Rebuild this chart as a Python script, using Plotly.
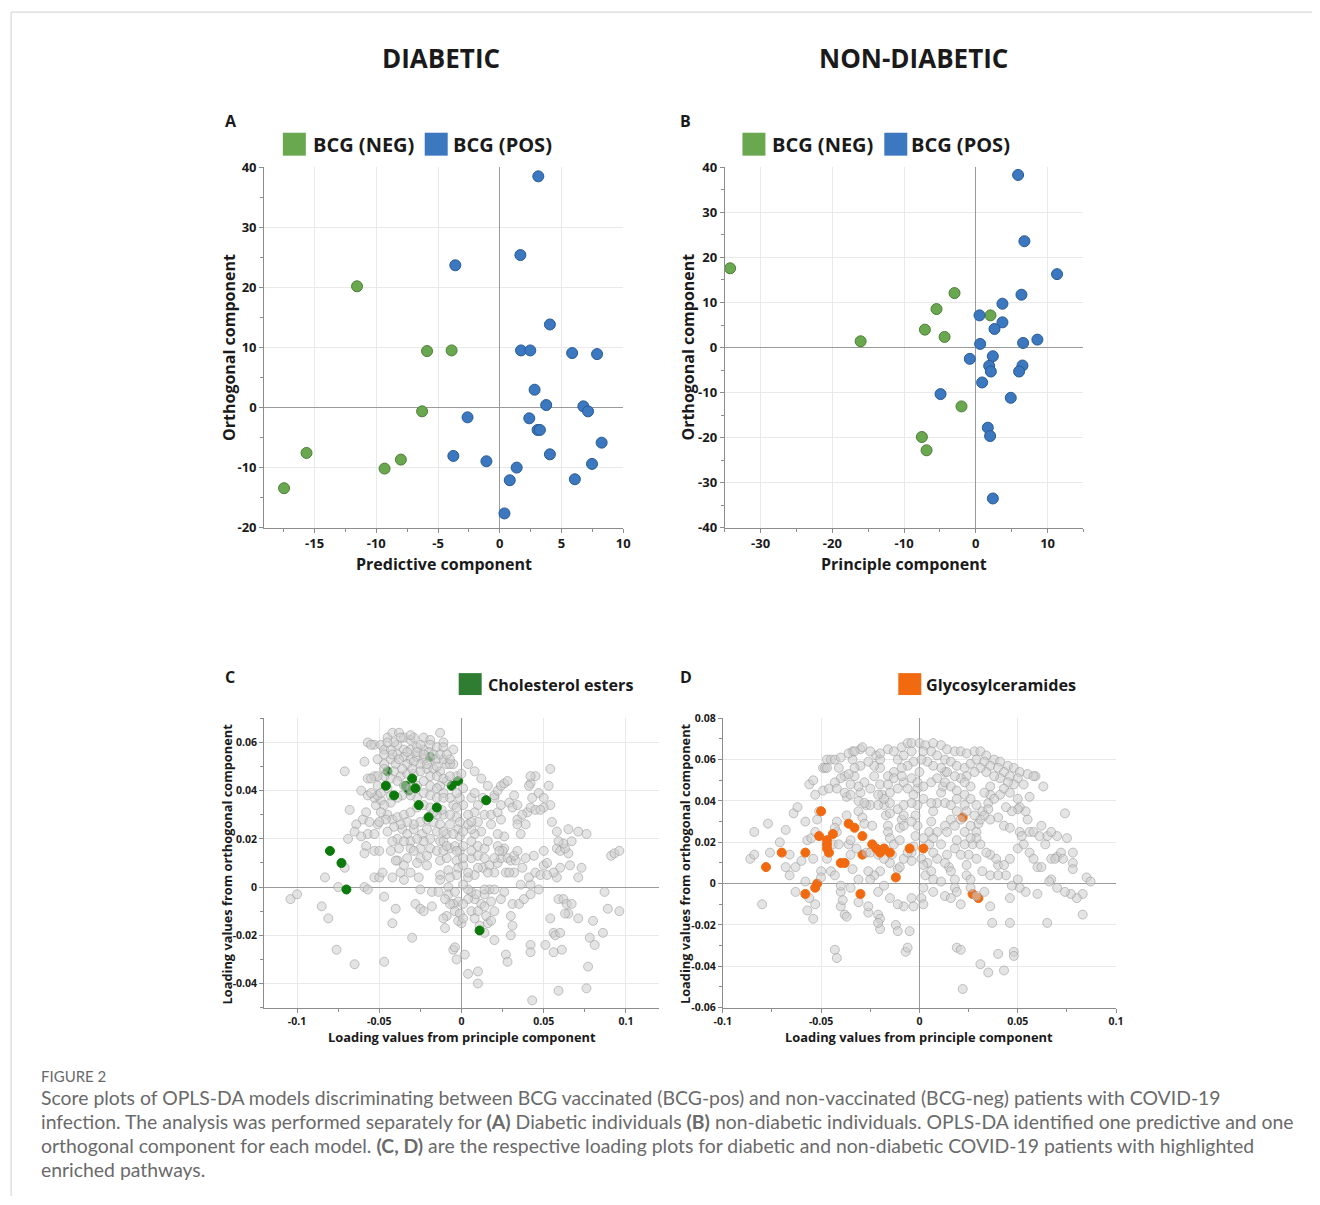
import plotly.graph_objects as go

# figure size; the page is photographed with an 8px body margin and a slight uniform scale
W, H = 1320, 1205
OFF = 8
S = 0.988

# ---------------- Panel A (diabetic score plot) ----------------
a_neg_x = [-11.56, -5.89, -3.90, -6.29, -15.65, -8.01, -9.33, -17.47]
a_neg_y = [20.2, 9.42, 9.53, -0.61, -7.53, -8.64, -10.14, -13.4]
a_pos_x = [3.12, 1.67, -3.60, 4.06, 1.72, 2.47, 5.86, 7.88, 2.82, 3.76, 6.77, 7.15, -2.61, 2.39,
           3.06, 3.25, 8.25, -3.76, 4.06, -1.08, 7.47, 1.37, 0.81, 6.08, 0.38]
a_pos_y = [38.5, 25.4, 23.7, 13.85, 9.53, 9.53, 9.09, 8.92, 2.99, 0.44, 0.22, -0.61, -1.61, -1.77,
           -3.71, -3.71, -5.82, -8.03, -7.76, -8.92, -9.36, -9.97, -12.08, -11.91, -17.6]

# ---------------- Panel B (non-diabetic score plot) ----------------
b_neg_x = [-34.25, -2.97, -5.48, -7.10, -4.36, -16.06, 2.04, -2.00, -7.52, -6.87]
b_neg_y = [17.6, 12.1, 8.55, 3.98, 2.36, 1.4, 7.15, -13.05, -19.84, -22.79]
b_pos_x = [5.89, 6.77, 11.32, 6.36, 3.71, 0.51, 3.71, 2.60, 0.60, 6.59, 8.58, -0.84, 2.37, 1.86,
           2.09, 6.50, 6.03, 0.88, -4.92, 4.87, 1.67, 1.99, 2.37]
b_pos_y = [38.3, 23.6, 16.3, 11.73, 9.73, 7.15, 5.6, 4.13, 0.81, 1.03, 1.77, -2.5, -1.92, -4.06,
           -5.31, -3.98, -5.31, -7.74, -10.32, -11.14, -17.77, -19.62, -33.48]

# ---------------- Panel C (diabetic loadings) ----------------
c_gray = [
    (-0.104, -0.005), (-0.100, -0.003), (-0.085, -0.008), (-0.081, -0.013), (-0.083, 0.004), (-0.075, 0.000),
    (-0.076, -0.026), (-0.065, -0.032), (-0.047, -0.031), (-0.047, -0.004), (-0.071, 0.008), (-0.069, 0.020),
    (-0.068, 0.032), (-0.071, 0.048), (-0.059, 0.052), (-0.061, 0.040), (-0.057, 0.045), (-0.053, 0.046),
    (-0.051, 0.042), (-0.052, 0.034), (-0.049, 0.036), (-0.058, 0.031), (-0.060, 0.028), (-0.064, 0.026),
    (-0.065, 0.023), (-0.057, 0.022), (-0.061, 0.021), (-0.058, 0.017), (-0.053, 0.022), (-0.056, 0.027),
    (-0.051, 0.026), (-0.053, 0.015), (-0.050, 0.015), (-0.059, 0.014), (-0.053, 0.004), (-0.050, 0.004),
    (-0.048, 0.006), (-0.059, 0.000), (-0.057, -0.001), (-0.042, 0.004), (-0.040, -0.009), (-0.042, -0.015),
    (-0.030, -0.021), (-0.028, -0.007), (-0.025, -0.009), (-0.023, -0.010), (-0.018, -0.008), (-0.018, -0.002),
    (-0.014, -0.002), (-0.025, -0.001), (-0.026, 0.004), (-0.031, 0.006), (-0.035, 0.003), (-0.037, 0.006),
    (-0.039, 0.011), (-0.038, 0.016), (-0.040, 0.011), (-0.043, 0.015), (-0.039, 0.020), (-0.036, 0.024),
    (-0.033, 0.022), (-0.031, 0.019), (-0.029, 0.024), (-0.024, 0.022), (-0.025, 0.016), (-0.031, 0.016),
    (-0.025, 0.012), (-0.021, 0.013), (-0.019, 0.016), (-0.019, 0.020), (-0.015, 0.023), (-0.017, 0.027),
    (-0.013, 0.019), (-0.015, 0.015), (-0.013, 0.011), (-0.009, 0.012), (-0.007, 0.016), (-0.011, 0.019),
    (-0.009, 0.022), (-0.007, 0.026), (-0.003, 0.029), (-0.002, 0.024), (-0.001, 0.021), (-0.004, 0.017),
    (-0.001, 0.015), (-0.003, 0.011), (-0.002, 0.008), (-0.008, 0.007), (-0.013, 0.005), (-0.013, 0.003),
    (-0.008, 0.000), (-0.008, -0.003), (-0.004, -0.002), (-0.002, -0.006), (-0.005, -0.007), (-0.004, -0.010),
    (-0.001, -0.011), (0.000, -0.015), (-0.002, -0.014), (-0.009, -0.012), (-0.011, -0.013), (-0.010, -0.017),
    (-0.005, -0.026), (-0.004, -0.025), (-0.003, -0.030), (0.002, -0.028), (0.004, -0.036), (0.010, -0.035),
    (0.010, -0.040), (0.011, -0.016), (0.014, -0.019), (0.016, -0.015), (0.015, -0.012), (0.017, -0.001),
    (0.014, -0.003), (0.012, -0.007), (0.008, -0.005), (0.006, -0.002), (0.004, -0.001), (0.001, 0.001),
    (0.004, 0.004), (0.008, 0.005), (0.013, 0.008), (0.017, 0.009), (0.020, 0.006), (0.022, 0.010),
    (0.024, 0.012), (0.026, 0.016), (0.022, 0.017), (0.025, 0.015), (0.028, 0.012), (0.030, 0.011),
    (0.033, 0.011), (0.032, 0.006), (0.027, 0.006), (0.024, -0.005), (0.020, -0.010), (0.018, -0.014),
    (0.020, -0.022), (0.027, -0.028), (0.028, -0.031), (0.030, -0.020), (0.031, -0.016), (0.030, -0.012),
    (0.031, -0.007), (0.035, -0.007), (0.038, -0.005), (0.042, -0.003), (0.047, -0.001), (0.042, 0.001),
    (0.036, 0.001), (0.041, 0.004), (0.045, 0.006), (0.048, 0.005), (0.050, 0.009), (0.052, 0.010),
    (0.050, 0.015), (0.044, 0.013), (0.039, 0.012), (0.037, 0.008), (0.032, 0.013), (0.034, 0.015),
    (0.026, 0.021), (0.022, 0.022), (0.018, 0.026), (0.012, 0.023), (0.008, 0.022), (0.006, 0.024),
    (0.004, 0.026), (0.010, 0.027), (0.014, 0.030), (0.018, 0.030), (0.024, 0.028), (0.022, 0.031),
    (0.024, 0.034), (0.020, 0.037), (0.015, 0.036), (0.013, 0.037), (0.010, 0.034), (0.008, 0.031),
    (0.004, 0.030), (0.001, 0.034), (-0.005, 0.034), (-0.007, 0.037), (-0.011, 0.030), (-0.012, 0.032),
    (-0.015, 0.030), (-0.011, 0.039), (-0.013, 0.042), (-0.009, 0.044), (-0.013, 0.048), (-0.009, 0.051),
    (-0.005, 0.051), (-0.003, 0.046), (0.000, 0.047), (0.004, 0.051), (0.008, 0.048), (0.012, 0.045),
    (0.016, 0.042), (0.020, 0.038), (0.022, 0.040), (0.024, 0.042), (0.026, 0.043), (0.028, 0.044),
    (0.029, 0.035), (0.031, 0.033), (0.034, 0.028), (0.034, 0.026), (0.036, 0.022), (0.039, 0.026),
    (0.040, 0.031), (0.042, 0.033), (0.045, 0.032), (0.043, 0.037), (0.042, 0.043), (0.047, 0.039),
    (0.045, 0.046), (0.053, 0.042), (0.054, 0.034), (0.055, 0.027), (0.050, 0.033), (0.048, 0.032),
    (0.058, 0.023), (0.058, 0.016), (0.060, 0.015), (0.060, 0.008), (0.058, 0.004), (0.056, 0.006),
    (0.052, 0.005), (0.059, -0.005), (0.062, -0.005), (0.064, -0.007), (0.065, -0.011), (0.054, -0.013),
    (0.056, -0.019), (0.057, -0.020), (0.060, -0.019), (0.061, -0.026), (0.056, -0.027), (0.051, -0.024),
    (0.042, -0.024), (0.042, -0.027), (0.043, -0.047), (0.059, -0.043), (0.076, -0.042), (0.077, -0.033),
    (0.078, -0.021), (0.081, -0.024), (0.086, -0.019), (0.089, -0.009), (0.087, -0.002), (0.080, -0.014),
    (0.071, -0.013), (0.063, -0.011), (0.067, -0.007), (0.073, 0.008), (0.071, 0.004), (0.066, 0.009),
    (0.065, 0.014), (0.063, 0.016), (0.062, 0.018), (0.065, 0.024), (0.071, 0.023), (0.076, 0.022),
    (0.067, 0.019), (0.059, 0.019), (0.091, 0.013), (0.093, 0.014), (0.096, 0.015), (0.096, -0.010),
    (0.054, 0.049), (0.042, 0.046), (0.041, 0.042), (0.032, 0.038), (0.034, 0.034), (0.037, 0.030),
    (0.050, 0.037),
    (-0.057, 0.060), (-0.053, 0.059), (-0.049, 0.059), (-0.045, 0.062), (-0.042, 0.064), (-0.038, 0.064),
    (-0.035, 0.062), (-0.031, 0.061), (-0.029, 0.062), (-0.023, 0.062), (-0.019, 0.061), (-0.013, 0.064),
    (-0.011, 0.060), (-0.005, 0.057), (-0.047, 0.057), (-0.043, 0.057), (-0.039, 0.059), (-0.035, 0.057),
    (-0.031, 0.057), (-0.027, 0.058), (-0.023, 0.057), (-0.019, 0.059), (-0.015, 0.058), (-0.011, 0.058),
    (-0.039, 0.055), (-0.035, 0.054), (-0.031, 0.053), (-0.027, 0.054), (-0.023, 0.053), (-0.019, 0.053),
    (-0.015, 0.053), (-0.011, 0.053), (-0.007, 0.051), (-0.043, 0.053), (-0.047, 0.051), (-0.040, 0.051),
    (-0.033, 0.051), (-0.025, 0.051), (-0.021, 0.049), (-0.017, 0.049), (-0.041, 0.048), (-0.037, 0.046),
    (-0.033, 0.047), (-0.029, 0.047), (-0.025, 0.048), (-0.019, 0.046), (-0.015, 0.046), (-0.051, 0.053),
    (-0.047, 0.055), (-0.055, 0.059), (-0.031, 0.063), (-0.025, 0.059), (-0.020, 0.056), (-0.017, 0.055),
    (-0.013, 0.055), (-0.037, 0.062), (-0.041, 0.060), (-0.045, 0.060), (-0.027, 0.056), (-0.023, 0.055),
    (-0.033, 0.056), (-0.042, 0.055), (-0.038, 0.053), (-0.029, 0.052), (-0.021, 0.051), (-0.015, 0.050),
    (-0.007, 0.053), (-0.009, 0.055), (-0.036, 0.049), (-0.030, 0.049), (-0.043, 0.045), (-0.039, 0.044),
    (-0.035, 0.042), (-0.031, 0.041), (-0.027, 0.042), (-0.023, 0.044), (-0.019, 0.042), (-0.015, 0.041),
    (-0.011, 0.045), (-0.007, 0.046), (-0.023, 0.039), (-0.019, 0.038), (-0.015, 0.037), (-0.011, 0.037),
    (-0.027, 0.037), (-0.031, 0.038), (-0.036, 0.038), (-0.039, 0.037), (-0.043, 0.035), (-0.047, 0.034),
    (-0.045, 0.030), (-0.042, 0.028), (-0.039, 0.029), (-0.035, 0.030), (-0.031, 0.031), (-0.027, 0.033),
    (-0.023, 0.034), (-0.019, 0.033), (-0.017, 0.031), (-0.021, 0.028), (-0.025, 0.027), (-0.029, 0.026),
    (-0.033, 0.027), (-0.037, 0.026), (-0.041, 0.025), (-0.046, 0.028), (-0.050, 0.027), (-0.049, 0.031),
    (-0.053, 0.037), (-0.051, 0.038), (-0.057, 0.038), (-0.055, 0.039), (-0.049, 0.039), (-0.045, 0.041),
    (-0.043, 0.038), (-0.047, 0.046), (-0.051, 0.046), (-0.055, 0.045), (-0.047, 0.049),
    (0.006, 0.012), (0.010, 0.008), (0.016, 0.006), (0.020, 0.012), (0.023, 0.015), (0.029, 0.006),
    (0.004, -0.005), (0.009, -0.003), (0.014, -0.001), (0.020, -0.001), (0.026, -0.002), (0.001, -0.007),
    (0.006, -0.010), (0.010, -0.010), (0.014, -0.008), (0.018, -0.006), (0.008, -0.013), (0.001, -0.013),
    (-0.007, -0.007), (-0.010, -0.005), (0.001, 0.009), (0.004, 0.006), (-0.003, 0.005), (-0.007, 0.004),
    (-0.021, 0.009), (-0.027, 0.010), (-0.033, 0.012), (-0.035, 0.009), (-0.029, 0.015), (-0.023, 0.019),
    (-0.027, 0.020), (-0.035, 0.019), (-0.042, 0.019), (-0.045, 0.023), (-0.011, 0.015), (-0.009, 0.017),
    (-0.005, 0.022), (0.001, 0.017), (0.006, 0.019), (0.010, 0.017), (0.014, 0.016), (0.016, 0.019),
    (0.006, 0.015), (0.010, 0.013), (0.014, 0.012), (0.001, 0.012), (-0.003, 0.015), (-0.021, 0.024),
    (-0.013, 0.026), (-0.011, 0.023), (0.001, 0.023), (0.006, 0.027), (-0.001, 0.027), (-0.007, 0.030),
    (-0.003, 0.033), (-0.001, 0.037), (0.006, 0.037), (0.008, 0.039), (0.001, 0.041), (-0.003, 0.039),
]
c_hl_strong = [(-0.080, 0.015), (-0.073, 0.010), (-0.070, -0.001), (-0.046, 0.042), (-0.041, 0.038),
               (-0.030, 0.045), (-0.028, 0.041), (-0.026, 0.034), (-0.020, 0.029), (-0.015, 0.033),
               (0.015, 0.036), (0.011, -0.018)]
c_hl_faint = [(-0.034, 0.042), (-0.045, 0.048), (-0.019, 0.054), (-0.006, 0.042), (-0.002, 0.044),
              (-0.032, 0.040)]

# ---------------- Panel D (non-diabetic loadings) ----------------
d_gray = [
    (-0.086, 0.012), (-0.084, 0.025), (-0.084, 0.014), (-0.080, -0.010), (-0.077, 0.029), (-0.076, 0.015),
    (-0.071, 0.020), (-0.068, 0.026), (-0.068, 0.008), (-0.066, 0.014), (-0.066, 0.004), (-0.064, 0.034),
    (-0.063, -0.004), (-0.063, 0.008), (-0.062, 0.037), (-0.060, 0.011), (-0.058, 0.030), (-0.057, 0.021),
    (-0.058, 0.001), (-0.057, -0.013), (-0.056, -0.007), (-0.055, 0.022), (-0.056, 0.048), (-0.054, 0.050),
    (-0.054, -0.017), (-0.053, -0.010), (-0.053, 0.043), (-0.054, 0.012), (-0.053, 0.025), (-0.052, 0.031),
    (-0.051, 0.035), (-0.050, 0.006), (-0.050, 0.003), (-0.049, 0.045), (-0.049, 0.056), (-0.048, 0.056),
    (-0.047, 0.060), (-0.047, 0.012), (-0.045, 0.060), (-0.044, 0.019), (-0.045, 0.006), (-0.043, 0.004),
    (-0.043, -0.032), (-0.042, -0.036), (-0.041, 0.056), (-0.040, -0.011), (-0.040, -0.004), (-0.039, -0.008),
    (-0.038, -0.015), (-0.037, -0.016), (-0.037, 0.042), (-0.037, 0.033), (-0.042, 0.030), (-0.042, 0.025),
    (-0.043, 0.027), (-0.041, 0.019), (-0.038, 0.052), (-0.036, 0.019), (-0.035, 0.021), (-0.034, 0.007),
    (-0.033, 0.052), (-0.034, 0.060), (-0.034, 0.064), (-0.031, 0.035), (-0.031, 0.002), (-0.031, -0.009),
    (-0.030, 0.044), (-0.029, 0.032), (-0.028, 0.029), (-0.027, 0.038), (-0.030, 0.065), (-0.027, 0.015),
    (-0.026, -0.014), (-0.026, -0.011), (-0.025, 0.038), (-0.025, 0.015), (-0.024, 0.028), (-0.022, 0.062),
    (-0.023, 0.052), (-0.020, 0.060), (-0.021, -0.015), (-0.020, -0.017), (-0.020, -0.022), (-0.021, -0.019),
    (-0.020, 0.048), (-0.019, 0.043), (-0.018, 0.038), (-0.017, 0.033), (-0.016, 0.028), (-0.016, 0.025),
    (-0.015, 0.022), (-0.015, 0.034), (-0.015, 0.010), (-0.014, 0.014), (-0.013, 0.019), (-0.012, -0.020),
    (-0.011, -0.023), (-0.011, 0.007), (-0.010, 0.008), (-0.010, 0.021), (-0.010, 0.027), (-0.009, 0.031),
    (-0.008, 0.033), (-0.007, -0.033), (-0.006, -0.031), (-0.005, -0.023), (-0.004, -0.007), (-0.004, 0.011),
    (-0.004, 0.015), (-0.003, 0.018), (-0.002, 0.023), (-0.002, 0.033), (-0.001, 0.038), (-0.001, 0.046),
    (0.000, 0.054), (0.001, 0.012), (0.001, -0.007), (0.002, -0.010), (0.002, -0.002), (0.003, 0.004),
    (0.004, 0.010), (0.005, 0.019), (0.005, 0.025), (0.006, 0.030), (0.007, 0.035), (0.009, 0.039),
    (0.011, 0.044), (0.012, 0.047), (0.013, 0.054), (0.014, 0.014), (0.015, 0.008), (0.016, 0.006),
    (0.018, 0.002), (0.018, -0.002), (0.019, -0.004), (0.021, -0.010), (0.019, -0.031), (0.021, -0.032),
    (0.022, -0.051), (0.024, 0.004), (0.024, 0.009), (0.025, 0.014), (0.027, 0.019), (0.029, 0.025),
    (0.030, 0.029), (0.032, 0.035), (0.035, 0.039), (0.036, 0.043), (0.031, -0.039), (0.035, -0.043),
    (0.037, -0.019), (0.043, -0.042), (0.048, -0.033), (0.048, -0.035), (0.040, -0.034), (0.046, -0.019),
    (0.065, -0.019), (0.083, -0.015), (0.085, 0.003), (0.087, 0.001), (0.083, -0.005), (0.080, -0.007),
    (0.077, -0.005), (0.074, -0.004), (0.070, -0.002), (0.067, 0.002), (0.066, 0.001), (0.060, -0.005),
    (0.054, -0.004), (0.051, -0.002), (0.050, 0.002), (0.047, -0.001), (0.046, -0.007), (0.044, 0.004),
    (0.040, 0.009), (0.039, 0.012), (0.036, 0.014), (0.034, 0.015), (0.031, 0.019), (0.029, 0.022),
    (0.029, 0.012), (0.032, 0.006), (0.036, 0.004), (0.040, 0.004), (0.043, 0.009), (0.046, 0.012),
    (0.050, 0.017), (0.053, 0.019), (0.056, 0.015), (0.058, 0.012), (0.060, 0.008), (0.062, 0.008),
    (0.067, 0.012), (0.070, 0.013), (0.072, 0.015), (0.075, 0.022), (0.078, 0.015), (0.078, 0.010),
    (0.078, 0.007), (0.074, 0.034), (0.070, 0.023), (0.065, 0.023), (0.062, 0.028), (0.063, 0.047),
    (0.059, 0.052), (0.056, 0.042), (0.055, 0.031), (0.054, 0.035), (0.051, 0.037), (0.050, 0.036),
    (0.047, 0.035), (0.044, 0.037), (0.041, 0.043), (0.038, 0.041), (0.035, 0.036), (0.031, 0.031),
    (0.040, 0.032), (0.043, 0.028), (0.046, 0.027), (0.051, 0.025), (0.052, 0.023), (0.056, 0.025),
    (0.058, 0.025), (0.061, 0.023), (0.064, 0.019), (0.069, 0.012), (0.073, 0.012), (0.067, 0.025),
    (-0.047, 0.056), (-0.043, 0.060), (-0.040, 0.061), (-0.036, 0.063), (-0.033, 0.064), (-0.029, 0.066),
    (-0.025, 0.064), (-0.020, 0.063), (-0.016, 0.065), (-0.013, 0.064), (-0.009, 0.066), (-0.006, 0.068),
    (-0.004, 0.068), (0.000, 0.068), (0.003, 0.067), (0.007, 0.068), (0.011, 0.067), (0.014, 0.065),
    (0.018, 0.064), (0.021, 0.064), (0.024, 0.063), (0.028, 0.064), (0.031, 0.064), (0.034, 0.062),
    (0.038, 0.060), (0.041, 0.059), (0.045, 0.057), (0.048, 0.056), (0.051, 0.054), (0.055, 0.053),
    (0.058, 0.052), (-0.011, 0.060), (-0.008, 0.062), (-0.004, 0.064), (0.002, 0.064), (0.006, 0.064),
    (0.009, 0.062), (0.013, 0.060), (0.016, 0.059), (0.019, 0.057), (0.023, 0.056), (0.026, 0.058),
    (0.029, 0.060), (0.033, 0.059), (0.036, 0.057), (0.040, 0.056), (0.043, 0.054), (0.046, 0.052),
    (0.050, 0.051), (0.053, 0.048), (0.048, 0.048), (0.045, 0.049), (0.041, 0.051), (0.038, 0.052),
    (0.034, 0.054), (0.031, 0.056), (0.028, 0.054), (0.024, 0.052), (0.021, 0.051), (0.018, 0.052),
    (0.014, 0.054), (0.011, 0.056), (0.007, 0.057), (0.004, 0.059), (0.001, 0.060), (-0.003, 0.059),
    (-0.006, 0.057), (-0.009, 0.056), (-0.013, 0.054), (-0.016, 0.052), (-0.020, 0.056), (-0.023, 0.057),
    (-0.026, 0.059), (-0.030, 0.057), (-0.033, 0.056), (-0.036, 0.053), (-0.040, 0.051), (-0.043, 0.049),
    (-0.046, 0.046), (-0.042, 0.046), (-0.038, 0.044), (-0.035, 0.043), (-0.031, 0.040), (-0.028, 0.039),
    (-0.021, 0.038), (-0.015, 0.044), (-0.011, 0.046), (-0.008, 0.049), (-0.004, 0.051), (-0.001, 0.049),
    (0.002, 0.047), (0.006, 0.049), (0.009, 0.051), (0.013, 0.049), (0.016, 0.047), (0.019, 0.045),
    (0.023, 0.043), (0.026, 0.041), (0.029, 0.038), (0.033, 0.033), (0.036, 0.031), (0.023, 0.038),
    (0.019, 0.035), (0.016, 0.031), (0.013, 0.028), (0.009, 0.025), (0.007, 0.022), (0.011, 0.019),
    (0.014, 0.025), (0.018, 0.028), (0.021, 0.031), (0.024, 0.035), (0.028, 0.033), (0.026, 0.028),
    (0.023, 0.025), (0.019, 0.021), (0.018, 0.017), (0.021, 0.014), (0.023, 0.019), (0.026, 0.022),
    (0.013, 0.010), (0.009, 0.012), (0.007, 0.015), (0.002, 0.022), (-0.001, 0.028), (-0.004, 0.030),
    (-0.008, 0.028), (-0.011, 0.036), (-0.015, 0.039), (-0.018, 0.041), (-0.021, 0.043), (-0.025, 0.046),
    (-0.028, 0.049), (-0.031, 0.047), (-0.035, 0.048), (-0.016, 0.048), (-0.013, 0.051), (-0.009, 0.052),
    (-0.006, 0.046), (-0.003, 0.043), (-0.004, 0.039), (-0.008, 0.038), (0.002, 0.041), (0.006, 0.039),
    (0.013, 0.039), (0.016, 0.038), (0.019, 0.041), (0.043, 0.046), (0.046, 0.044), (0.050, 0.041),
    (0.036, 0.047), (0.033, 0.044), (0.026, 0.047), (0.023, 0.049),
    (-0.035, 0.014), (-0.032, 0.017), (-0.021, 0.014), (-0.018, 0.012), (-0.020, 0.006), (-0.023, 0.004),
    (-0.026, 0.006), (-0.008, 0.012), (-0.006, 0.015), (0.002, 0.009), (0.006, 0.006), (0.007, 0.002),
    (0.011, 0.001), (0.007, -0.004), (0.013, -0.006), (0.016, -0.007), (0.026, -0.002), (0.029, -0.006),
    (0.033, -0.004), (0.036, -0.011), (0.026, 0.002), (-0.008, -0.011), (-0.003, -0.011), (-0.011, -0.010),
    (-0.015, -0.007), (-0.021, -0.004), (-0.018, -0.001), (-0.025, 0.002), (-0.035, -0.002), (-0.040, -0.001),
]
d_hl_strong = [(-0.078, 0.008), (-0.070, 0.015), (-0.058, 0.015), (-0.058, -0.005), (-0.051, 0.023),
               (-0.050, 0.035), (-0.047, 0.021), (-0.047, 0.019), (-0.047, 0.017), (-0.046, 0.015),
               (-0.044, 0.024), (-0.040, 0.010), (-0.038, 0.010), (-0.036, 0.029), (-0.033, 0.027),
               (-0.029, 0.023), (-0.030, -0.005), (-0.024, 0.019), (-0.022, 0.017), (-0.020, 0.015),
               (-0.018, 0.017), (-0.015, 0.015), (-0.012, 0.003), (-0.005, 0.017), (0.002, 0.017)]
d_hl_faint = [(0.022, 0.032), (0.027, -0.005), (0.030, -0.007), (-0.052, 0.000), (-0.053, -0.002),
              (-0.029, 0.014)]

# ---------------- Tick values ----------------
a_xticks = [-15, -10, -5, 0, 5, 10]
a_yticks = [-20, -10, 0, 10, 20, 30, 40]
b_xticks = [-30, -20, -10, 0, 10]
b_yticks = [-40, -30, -20, -10, 0, 10, 20, 30, 40]
c_xticks = [-0.1, -0.05, 0, 0.05, 0.1]
c_yticks = [-0.04, -0.02, 0, 0.02, 0.04, 0.06]
d_xticks = [-0.1, -0.05, 0, 0.05, 0.1]
d_yticks = [-0.06, -0.04, -0.02, 0, 0.02, 0.04, 0.06, 0.08]

# ---------------- Text ----------------
col_titles = ["DIABETIC", "NON-DIABETIC"]
panel_letters = ["A", "B", "C", "D"]
score_legend = ["BCG (NEG)", "BCG (POS)"]
pathway_legend = ["Cholesterol esters", "Glycosylceramides"]
caption_head = "FIGURE 2"
caption_lines = [
    "Score plots of OPLS-DA models discriminating between BCG vaccinated (BCG-pos) and non-vaccinated (BCG-neg) patients with COVID-19",
    "infection. The analysis was performed separately for <b>(A)</b> Diabetic individuals <b>(B)</b> non-diabetic individuals. OPLS-DA identified one predictive and one",
    "orthogonal component for each model. <b>(C, D)</b> are the respective loading plots for diabetic and non-diabetic COVID-19 patients with highlighted",
    "enriched pathways.",
]

# ---------------- Styles ----------------
GREEN, GREEN_LINE = "#6aa84f", "#4d7d39"
BLUE, BLUE_LINE = "#3b78c0", "#285a94"
HL_GREEN = "#0b7a0b"
LEG_GREEN = "#2e7d32"
ORANGE = "#f26a10"
FONT = "Open Sans"
CAP_FONT = "Lato"
TXT = "#1a1a1a"


def px(x):
    # target page pixel -> paper fraction
    return (x / S - OFF) / W


def py(y):
    return 1 - (y / S - OFF) / H


def tick_label(v):
    return ("%g" % v).replace("\u2212", "-")


fig = go.Figure()


def sc(xs, ys, ax, color, line, size, opacity=1.0):
    fig.add_trace(go.Scatter(
        x=xs, y=ys, mode="markers", xaxis="x" + ax, yaxis="y" + ax, showlegend=False,
        hoverinfo="skip",
        marker=dict(size=size, color=color, opacity=opacity, line=dict(color=line, width=1)),
    ))


def unzip(pairs):
    return [p[0] for p in pairs], [p[1] for p in pairs]


sc(a_neg_x, a_neg_y, "", GREEN, GREEN_LINE, 11)
sc(a_pos_x, a_pos_y, "", BLUE, BLUE_LINE, 11)
sc(b_neg_x, b_neg_y, "2", GREEN, GREEN_LINE, 11)
sc(b_pos_x, b_pos_y, "2", BLUE, BLUE_LINE, 11)

GRAY_FILL = "rgba(205,205,205,0.55)"
GRAY_LINE = "rgba(150,150,150,0.55)"
for hl_f, gray, hl_s, ax, hc in [(c_hl_faint, c_gray, c_hl_strong, "3", HL_GREEN),
                                 (d_hl_faint, d_gray, d_hl_strong, "4", ORANGE)]:
    fx, fy = unzip(hl_f)
    sc(fx, fy, ax, hc, hc, 9)
    gx, gy = unzip(gray)
    fig.add_trace(go.Scatter(x=gx, y=gy, mode="markers", xaxis="x" + ax, yaxis="y" + ax,
                             showlegend=False, hoverinfo="skip",
                             marker=dict(size=9, color=GRAY_FILL, line=dict(color=GRAY_LINE, width=1))))
    sx, sy = unzip(hl_s)
    sc(sx, sy, ax, hc, hc, 9)

AX_COLOR = "#8c8c8c"
GRID = "#e9e9e9"


def axis_style(rng, ticks, minor, dom, anchor, tsize):
    return dict(range=rng, tickmode="array", tickvals=ticks, ticktext=[tick_label(t) for t in ticks],
                domain=dom, anchor=anchor, showgrid=True, gridcolor=GRID,
                gridwidth=1, zeroline=True, zerolinecolor="#9a9a9a", zerolinewidth=1,
                showline=True, linecolor=AX_COLOR, linewidth=1, ticks="outside", ticklen=4,
                tickcolor=AX_COLOR, mirror=False,
                minor=dict(ticks="outside", ticklen=3, dtick=minor, tickcolor=AX_COLOR, showgrid=False),
                tickfont=dict(family=FONT, size=tsize, color=TXT, weight="bold"),
                fixedrange=True)


xa = [263.3, 622.7]
xb = [724.3, 1083.3]
xc = [263.3, 658.3]
xd = [722.3, 1116.0]
ytop = [166.7, 528.3]
ybot = [719.3, 1009.5]


def dom_x(p):
    return [px(p[0]), px(p[1])]


def dom_y(p):
    return [py(p[1]), py(p[0])]


fig.update_layout(
    width=W, height=H, margin=dict(l=0, r=0, t=0, b=0),
    paper_bgcolor="white", plot_bgcolor="white", showlegend=False,
    xaxis=axis_style([-19.08, 10], a_xticks, 2.5, dom_x(xa), "y", 13),
    yaxis=axis_style([-20, 40], a_yticks, 5, dom_y(ytop), "x", 13),
    xaxis2=axis_style([-35, 15], b_xticks, 5, dom_x(xb), "y2", 13),
    yaxis2=axis_style([-40, 40], b_yticks, 5, dom_y(ytop), "x2", 13),
    xaxis3=axis_style([-0.12, 0.12], c_xticks, 0.025, dom_x(xc), "y3", 10.5),
    yaxis3=axis_style([-0.05, 0.07], c_yticks, 0.01, dom_y(ybot), "x3", 10.5),
    xaxis4=axis_style([-0.1, 0.1], d_xticks, 0.025, dom_x(xd), "y4", 10.5),
    yaxis4=axis_style([-0.06, 0.08], d_yticks, 0.01, dom_y(ybot), "x4", 10.5),
)

ann = []


def text(x, y, s, size, color=TXT, bold=True, xanchor="center", angle=0, family=FONT):
    ann.append(dict(x=px(x), y=py(y), xref="paper", yref="paper", text=s, showarrow=False,
                    xanchor=xanchor, yanchor="middle", textangle=angle,
                    font=dict(family=family, size=size, color=color, weight="bold" if bold else "normal")))


# column titles
text(440, 57, col_titles[0], 26)
text(913, 57, col_titles[1], 26)
# panel letters
text(222, 120, panel_letters[0], 16, xanchor="left")
text(678, 120, panel_letters[1], 16, xanchor="left")
text(222, 678, panel_letters[2], 16, xanchor="left")
text(678, 678, panel_letters[3], 16, xanchor="left")

# axis titles
text(443, 565, "Predictive component", 16)
text(228, 347, "Orthogonal component", 16, angle=-90)
text(904, 565, "Principle component", 16)
text(688, 347, "Orthogonal component", 16, angle=-90)
text(461, 1039, "Loading values from principle component", 12.9)
text(226, 865, "Loading values from orthogonal component", 12.8, angle=-90)
text(919, 1039, "Loading values from principle component", 12.9)
text(684, 865, "Loading values from orthogonal component", 12.8, angle=-90)

shapes = []


def square(x0, y0, x1, y1, color):
    shapes.append(dict(type="rect", xref="paper", yref="paper", x0=px(x0), x1=px(x1), y0=py(y1), y1=py(y0),
                       fillcolor=color, line=dict(width=0)))


# score legends
for (gx, bx, gt, bt) in [(282, 424, 310, 450), (742, 884, 770, 909)]:
    square(gx, 132, gx + 23, 155, GREEN)
    text(gt, 143.5, score_legend[0], 20, xanchor="left")
    square(bx, 132, bx + 23, 155, BLUE)
    text(bt, 143.5, score_legend[1], 20, xanchor="left")

# pathway legends
square(458, 674, 481, 696, LEG_GREEN)
text(485, 686, pathway_legend[0], 16.1, xanchor="left")
square(898, 674, 921, 696, ORANGE)
text(924, 686, pathway_legend[1], 16.2, xanchor="left")

# caption
text(38, 1078, caption_head, 15, color="#6a6a6a", bold=False, xanchor="left", family=CAP_FONT)
for i, line in enumerate(caption_lines):
    text(38, 1100 + 24 * i, line, 19.4, color="#6a6a6a", bold=False, xanchor="left", family=CAP_FONT)

# frame lines
shapes.append(dict(type="line", xref="paper", yref="paper", x0=px(10), x1=1, y0=py(11), y1=py(11),
                   line=dict(color="#cfcfcf", width=1)))
shapes.append(dict(type="line", xref="paper", yref="paper", x0=px(10), x1=px(10), y0=py(11), y1=0,
                   line=dict(color="#cfcfcf", width=1)))

fig.update_layout(annotations=ann, shapes=shapes)
fig.write_html("out.html")
